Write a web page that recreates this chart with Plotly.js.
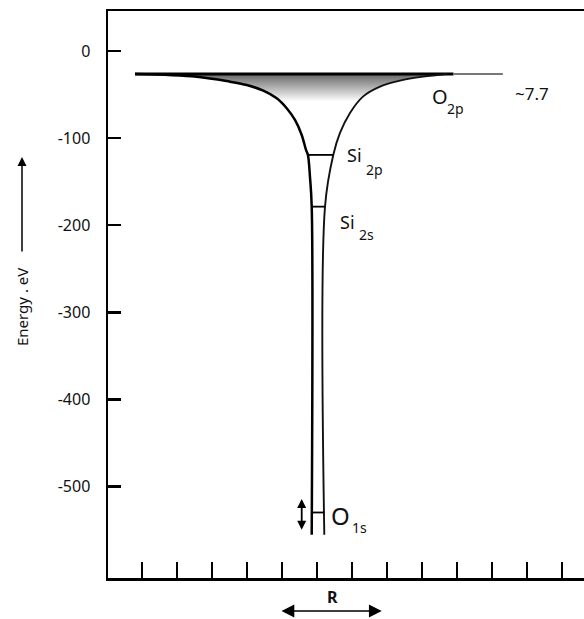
<!DOCTYPE html>
<html>
<head>
<meta charset="utf-8">
<script src="https://cdn.plot.ly/plotly-3.0.1.min.js"></script>
<style>html,body{margin:0;padding:0;background:#fff;}#chart{width:584px;height:619px;}</style>
</head>
<body>
<div id="chart"></div>
<script>
// ---- data (x in units of R-tick spacing, y in eV) ----
var topLevel = -26.4;
var topLineX = [-5.2, 3.9];
var topLineFadeX = [3.9, 5.31];

var leftX = [-5.2, -3.437, -2.486, -2.009, -1.534, -1.151, -0.866, -0.629, -0.437, -0.314, -0.26, -0.2, -0.151, -0.151];
var leftY = [-26.4, -29.5, -35.2, -39.0, -45.6, -54.3, -65.7, -79.2, -96.4, -113.6, -119.3, -145, -178.7, -555.4];

var rightX = [0.209, 0.229, 0.466, 0.657, 0.943, 1.314, 1.8, 2.371, 3.029, 3.714];
var rightY = [-555.4, -178.7, -119.3, -94.1, -71.1, -52.4, -41.0, -34.1, -29.5, -26.4];

var levelNames = ["Si2p", "Si2s", "O1s"];
var levelY = [-119.3, -178.7, -529.8];
var levelX0 = [-0.26, -0.151, -0.151];
var levelX1 = [0.466, 0.229, 0.209];

var yTickVals = [0, -100, -200, -300, -400, -500];
var yTickText = ["0", "-100", "-200", "-300", "-400", "-500"];
var xTickVals = [-5, -4, -3, -2, -1, 0, 1, 2, 3, 4, 5, 6, 7];

var o1sArrowY = [-512.6, -549.6];
var o1sArrowX = -0.437;
var rArrowX = [-1.057, 1.849];

// ---- layout helpers ----
var W = 584, H = 619;
var M = {l: 108, r: 0, t: 11, b: 41};
function px2paperX(px) { return (px - M.l) / (W - M.l - M.r); }
function py2paperY(py) { return (H - M.b - py) / (H - M.t - M.b); }

// fill polygon (upper part of the well)
var fillX = leftX.slice(0, 11).concat(rightX.slice(2));
var fillY = leftY.slice(0, 11).concat(rightY.slice(2));

var traces = [
  {x: fillX, y: fillY, mode: 'lines', fill: 'toself', line: {width: 0, color: 'rgba(0,0,0,0)', shape: 'spline', smoothing: 1},
   fillgradient: {type: 'vertical', start: -58, stop: -27, colorscale: [[0, 'rgba(255,255,255,1)'], [1, 'rgb(105,105,105)']]},
   hoverinfo: 'skip', showlegend: false},
  {x: topLineX, y: [topLevel, topLevel], mode: 'lines', line: {color: '#000', width: 3}, showlegend: false},
  {x: topLineFadeX, y: [topLevel, topLevel], mode: 'lines', line: {color: '#777', width: 2}, showlegend: false},
  {x: leftX, y: leftY, mode: 'lines', line: {color: '#000', width: 2.5, shape: 'spline', smoothing: 1}, showlegend: false},
  {x: rightX, y: rightY, mode: 'lines', line: {color: '#111', width: 1.9, shape: 'spline', smoothing: 1}, showlegend: false}
];
for (var i = 0; i < levelY.length; i++) {
  traces.push({x: [levelX0[i], levelX1[i]], y: [levelY[i], levelY[i]], mode: 'lines',
    line: {color: '#000', width: 1.8}, name: levelNames[i], showlegend: false});
}

var F = 'Noto Sans, Open Sans, sans-serif';
function lab(text, px, py, size) {
  return {xref: 'paper', yref: 'paper', x: px2paperX(px), y: py2paperY(py), xanchor: 'left', yanchor: 'middle',
    text: text, showarrow: false, font: {family: F, size: size, color: '#111'}};
}

var annotations = [
  lab('O', 430, 96, 20), lab('2p', 445, 108, 14),
  lab('~7.7', 513, 93, 17),
  lab('Si', 345, 155, 18), lab('2p', 364, 169, 14),
  lab('Si', 338, 222, 18), lab('2s', 357, 234, 14),
  lab('O', 329, 515, 24), lab('1s', 350, 527, 14),
  // R label
  {xref: 'paper', yref: 'paper', x: px2paperX(332), y: py2paperY(597), xanchor: 'center', yanchor: 'middle',
   text: '<b>R</b>', showarrow: false, font: {family: F, size: 16, color: '#111'}},
  // R double arrow
  {xref: 'x', yref: 'paper', x: rArrowX[1], y: py2paperY(611), axref: 'x', ax: rArrowX[0], ay: 0,
   showarrow: true, arrowside: 'end+start', arrowhead: 2, arrowsize: 1.6, arrowwidth: 1.6, arrowcolor: '#000', text: ''},
  // O1s double arrow
  {xref: 'x', yref: 'y', x: o1sArrowX, y: o1sArrowY[1], axref: 'x', ayref: 'y', ax: o1sArrowX, ay: o1sArrowY[0],
   showarrow: true, arrowside: 'end+start', arrowhead: 2, arrowsize: 1, arrowwidth: 1.8, arrowcolor: '#000', text: ''},
  // y title
  {xref: 'paper', yref: 'paper', x: px2paperX(22), y: py2paperY(307), xanchor: 'center', yanchor: 'middle',
   text: 'Energy . eV', textangle: -90, showarrow: false, font: {family: F, size: 15, color: '#111'}},
  // energy arrow
  {xref: 'paper', yref: 'paper', x: px2paperX(22), y: py2paperY(157), ax: 0, ay: 96,
   showarrow: true, arrowhead: 2, arrowsize: 1.2, arrowwidth: 1.5, arrowcolor: '#000', text: ''}
];

var layout = {
  width: W, height: H,
  margin: M,
  paper_bgcolor: '#fff', plot_bgcolor: '#fff',
  showlegend: false,
  xaxis: {range: [(108 - 317) / 35, (584 - 317) / 35], tickvals: xTickVals, showticklabels: false,
    ticks: 'inside', ticklen: 16, tickwidth: 2, tickcolor: '#000',
    showline: true, linecolor: '#000', linewidth: 2.5, mirror: true, showgrid: false, zeroline: false, fixedrange: true},
  yaxis: {range: [-605, 45.9], tickvals: yTickVals, ticktext: yTickText,
    ticks: 'inside', ticklen: 13, tickwidth: 2.5, tickcolor: '#000',
    showline: true, linecolor: '#000', linewidth: 2.5, showgrid: false, zeroline: false, fixedrange: true,
    ticklabelstandoff: 12,
    tickfont: {family: F, size: 16, color: '#111'}},
  annotations: annotations
};

Plotly.newPlot('chart', traces, layout, {staticPlot: true, displayModeBar: false});
</script>
</body>
</html>
